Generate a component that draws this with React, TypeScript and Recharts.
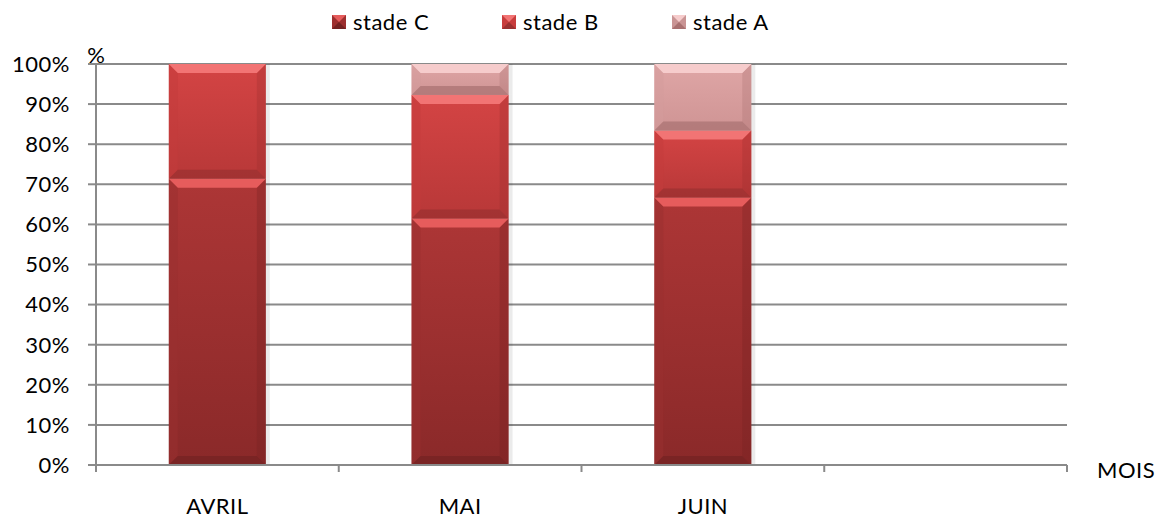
import React from "react";
import { Bar, BarChart, CartesianGrid, XAxis, YAxis } from "recharts";

const months = ["AVRIL", "MAI", "JUIN", ""];
const stadeC = [71.4, 61.5, 66.7, null];
const stadeB = [28.6, 30.8, 16.7, null];
const stadeA = [0, 7.7, 16.6, null];
const yTicks = [0, 10, 20, 30, 40, 50, 60, 70, 80, 90, 100];

const data = months.map((m, i) => ({
  name: m,
  c: stadeC[i],
  b: stadeB[i],
  a: stadeA[i],
}));

const tones: Record<string, { top: string; bottom: string; hi: string; lo: string; side: string; legend: string }> = {
  c: { top: "#ad3636", bottom: "#8a2929", hi: "#e65c5c", lo: "#732222", side: "#9a2f2f", legend: "#9d2f2f" },
  b: { top: "#d44444", bottom: "#b83838", hi: "#f27474", lo: "#9a3030", side: "#c43c3c", legend: "#c83c3c" },
  a: { top: "#dfa6a6", bottom: "#cf9494", hi: "#f6cccc", lo: "#a87070", side: "#d49c9c", legend: "#c99494" },
};

const font = "Lato, 'Open Sans', sans-serif";
const fontSize = 22;
const spacing = 0.5;
const gridColor = "#8a8a8a";

const BevelBar = (props: any) => {
  const { x, y, width, height, tone } = props;
  if (!height || height <= 0) return null;
  const t = tones[tone];
  const b = Math.min(9, height / 2);
  return (
    <g>
      <rect x={x + 2} y={y} width={width + 2} height={height} fill="rgba(0,0,0,0.08)" />
      <rect x={x} y={y} width={width} height={height} fill={`url(#grad-${tone})`} />
      <polygon points={`${x},${y} ${x + b},${y + b} ${x + b},${y + height - b} ${x},${y + height}`} fill={t.side} opacity={0.5} />
      <polygon points={`${x + width},${y} ${x + width - b},${y + b} ${x + width - b},${y + height - b} ${x + width},${y + height}`} fill={t.lo} opacity={0.3} />
      <polygon points={`${x},${y} ${x + width},${y} ${x + width - b},${y + b} ${x + b},${y + b}`} fill={t.hi} />
      <polygon points={`${x},${y + height} ${x + width},${y + height} ${x + width - b},${y + height - b} ${x + b},${y + height - b}`} fill={t.lo} opacity={0.7} />
    </g>
  );
};

const MonthTick = (props: any) => {
  const { x, y, payload, index } = props;
  const half = payload && payload.offset ? payload.offset : 971 / 8;
  return (
    <g>
      <line x1={x - half} x2={x - half} y1={y} y2={y + 7} stroke={gridColor} strokeWidth={2} />
      {index === months.length - 1 && (
        <line x1={x + half} x2={x + half} y1={y} y2={y + 7} stroke={gridColor} strokeWidth={2} />
      )}
      <text x={x} y={y + 49} textAnchor="middle" fontSize={fontSize} letterSpacing={spacing} fill="#000" fontFamily={font}>
        {payload.value}
      </text>
    </g>
  );
};

const LegendMark = ({ tone }: { tone: string }) => {
  const t = tones[tone];
  return (
    <svg width={14} height={14} style={{ display: "block" }}>
      <rect x={0} y={0} width={14} height={14} fill={t.legend} />
      <polygon points="0,0 14,0 7,7" fill={t.hi} />
      <polygon points="0,14 14,14 7,7" fill={t.lo} />
    </svg>
  );
};

const legendItems = [
  { key: "c", label: "stade C" },
  { key: "b", label: "stade B" },
  { key: "a", label: "stade A" },
];

export default function App() {
  return (
    <div style={{ position: "absolute", left: 0, top: 0, width: 1167, height: 519, background: "#fff", fontFamily: font }}>
      <div style={{ position: "absolute", left: 332, top: 8, display: "flex" }}>
        {legendItems.map((it) => (
          <div
            key={it.key}
            style={{ width: 170, display: "flex", alignItems: "center", gap: 7, fontSize, letterSpacing: spacing, color: "#000", lineHeight: "28px" }}
          >
            <LegendMark tone={it.key} />
            <span>{it.label}</span>
          </div>
        ))}
      </div>
      <BarChart
        width={1167}
        height={519}
        data={data}
        margin={{ top: 64, right: 100, left: 0, bottom: 0 }}
        barCategoryGap="30%"
      >
        <defs>
          {Object.keys(tones).map((k) => (
            <linearGradient key={k} id={`grad-${k}`} x1="0" y1="0" x2="0" y2="1">
              <stop offset="0%" stopColor={tones[k].top} />
              <stop offset="100%" stopColor={tones[k].bottom} />
            </linearGradient>
          ))}
        </defs>
        <CartesianGrid horizontal vertical={false} stroke={gridColor} strokeWidth={2} />
        <XAxis
          dataKey="name"
          height={54}
          axisLine={{ stroke: gridColor, strokeWidth: 2 }}
          tickLine={false}
          tickSize={0}
          tickMargin={0}
          interval={0}
          tick={<MonthTick />}
          label={{ value: "MOIS", position: "right", offset: 30, dy: -22, fontSize, letterSpacing: spacing, fill: "#000", fontFamily: font }}
        />
        <YAxis
          width={96}
          domain={[0, 100]}
          ticks={yTicks}
          interval={0}
          tickFormatter={(v) => `${v}%`}
          tick={{ fontSize, letterSpacing: spacing, fill: "#000", fontFamily: font }}
          tickSize={8}
          tickMargin={18}
          axisLine={{ stroke: gridColor, strokeWidth: 2 }}
          tickLine={{ stroke: gridColor, strokeWidth: 2 }}
          label={{ value: "%", position: "top", offset: 1, dx: 48, fontSize, fill: "#000", fontFamily: font }}
        />
        <Bar dataKey="c" stackId="s" isAnimationActive={false} shape={(p: any) => <BevelBar {...p} tone="c" />} />
        <Bar dataKey="b" stackId="s" isAnimationActive={false} shape={(p: any) => <BevelBar {...p} tone="b" />} />
        <Bar dataKey="a" stackId="s" isAnimationActive={false} shape={(p: any) => <BevelBar {...p} tone="a" />} />
      </BarChart>
    </div>
  );
}
